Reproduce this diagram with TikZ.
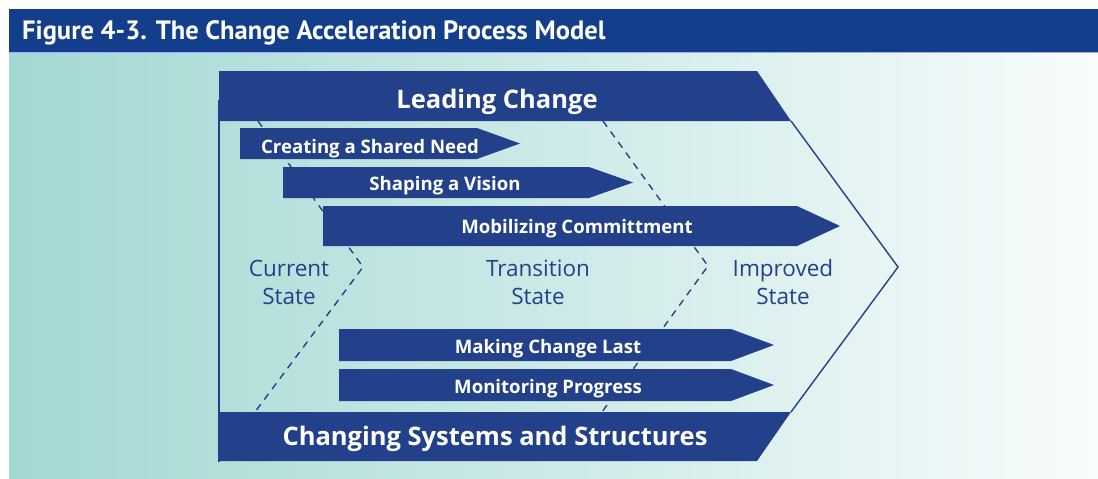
\documentclass[tikz,border=0pt]{standalone}
\usepackage{fontspec}
\setmainfont{Open Sans}
\newfontfamily\titlefont{PT Sans}
\usepackage{tikz}

\definecolor{capblue}{HTML}{23418A}
\definecolor{headblue}{HTML}{133E8B}
\definecolor{capteal}{HTML}{A2D8D3}
\definecolor{capwhite}{HTML}{F8FCFC}

\begin{document}
\begin{tikzpicture}[x=1pt,y=-1pt,
  bartext/.style={text=white,font=\bfseries\fontsize{25.5}{25.5}\selectfont,inner sep=0pt,anchor=base},
  steptext/.style={text=white,font=\bfseries\fontsize{18.6}{18.6}\selectfont,inner sep=0pt,anchor=base},
  statetext/.style={text=capblue,font=\fontsize{22.5}{28}\selectfont,align=center,inner sep=0pt},
  zone/.style={capblue,line width=1.4pt,dash pattern=on 7pt off 6pt}]
  \useasboundingbox (0,0) rectangle (1098,479);
  % background and heading
  \shade[left color=capteal,right color=capwhite] (9,52) rectangle (1098,479);
  \fill[headblue] (9,9) rectangle (1098,52);
  \draw[blue!35,line width=1pt] (9,52) -- (1098,52);
  \node[anchor=base west,text=white,inner sep=0pt,
    font=\titlefont\bfseries\fontsize{26.5}{26.5}\selectfont] (title) at (22,39)
    {Figure 4-3. The Change Acceleration Process Model};
  % outline of the model
  \coordinate (tip) at (898,267);
  \draw[capblue,line width=1.4pt] (219,100) -- (219,462);
  \draw[capblue,line width=1.4pt] (791,121) -- (tip) -- (791,412);
  % zone borders
  \coordinate (a1) at (258,121);
  \coordinate (a2) at (363,267);
  \coordinate (a3) at (255,412);
  \coordinate (b1) at (603,121);
  \coordinate (b2) at (708,266);
  \coordinate (b3) at (602,412);
  \draw[zone] (a1) -- (a2) -- (a3);
  \draw[zone] (b1) -- (b2) -- (b3);
  \node[statetext] (current) at (289,282) {Current\\State};
  \node[statetext] (transition) at (538,282) {Transition\\State};
  \node[statetext] (improved) at (783,282) {Improved\\State};
  % top and bottom bars
  \fill[capblue] (219,71) -- (757,71) -- (791,121) -- (219,121) -- cycle;
  \fill[capblue] (219,412) -- (791,412) -- (757,461) -- (219,461) -- cycle;
  \node[bartext] (leading) at (497,108) {Leading Change};
  \node[bartext] (systems) at (495,445) {Changing Systems and Structures};
  % the five steps
  \foreach \nm/\l/\t/\b/\s/\p/\c/\bl/\txt in {
      need/240/128/159/477/520/370/153/Creating a Shared Need,
      vision/283/167/198/589/633/445/190/Shaping a Vision,
      commit/323/206/246/797/840/577/233/Mobilizing Committment,
      last/339/329/361/731/774/548/353/Making Change Last,
      monitor/339/369/401/731/774/548/393/Monitoring Progress} {
    \fill[capblue] (\l,\t) -- (\s,\t) -- (\p,{(\t+\b)/2}) -- (\s,\b) -- (\l,\b) -- cycle;
    \node[steptext] (\nm) at (\c,\bl) {\txt};
  }
\end{tikzpicture}
\end{document}
